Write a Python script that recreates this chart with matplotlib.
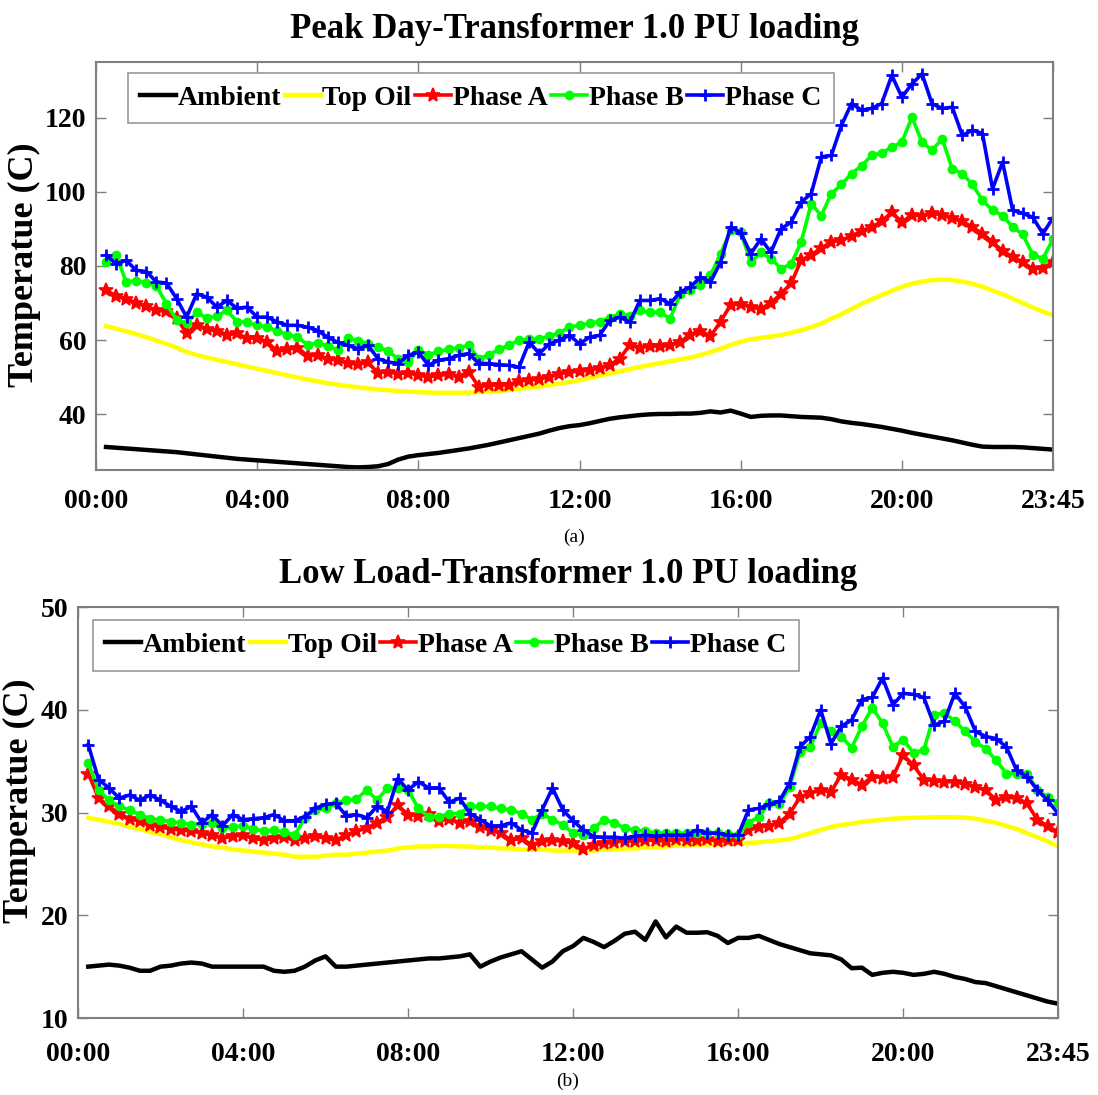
import numpy as np
import matplotlib
matplotlib.use("Agg")
import matplotlib.pyplot as plt

# 15-minute samples from 00:15 to 23:45 (hours)
hours = np.arange(1, 96) * 0.25

tick_pos = [0, 4, 8, 12, 16, 20, 23.75]
tick_labels = ["00:00", "04:00", "08:00", "12:00", "16:00", "20:00", "23:45"]

# ---------------- Peak day ----------------
peak_ambient = [
    31.2, 31.0, 30.8, 30.6, 30.4, 30.2, 30.0, 29.8, 29.5, 29.2, 28.9, 28.6,
    28.3, 28.0, 27.8, 27.6, 27.4, 27.2, 27.0, 26.8, 26.6, 26.4, 26.2, 26.0,
    25.8, 25.7, 25.8, 26.0, 26.6, 27.8, 28.6, 29.0, 29.3, 29.6, 30.0, 30.4,
    30.8, 31.3, 31.8, 32.4, 33.0, 33.6, 34.2, 34.8, 35.6, 36.3, 36.8, 37.1,
    37.6, 38.2, 38.8, 39.2, 39.5, 39.8, 40.0, 40.1, 40.1, 40.2, 40.2, 40.4,
    40.8, 40.5, 41.0, 40.2, 39.3, 39.6, 39.7, 39.7, 39.5, 39.3, 39.2, 39.1,
    38.7, 38.1, 37.7, 37.4, 37.0, 36.6, 36.1, 35.6, 35.0, 34.5, 34.0, 33.5,
    33.0, 32.4, 31.8, 31.3, 31.2, 31.2, 31.2, 31.1, 30.9, 30.7, 30.5]
peak_top_oil = [
    63.8, 63.1, 62.4, 61.6, 60.8, 59.9, 59.0, 58.0, 56.8, 56.0, 55.3, 54.7,
    54.1, 53.5, 52.9, 52.3, 51.7, 51.1, 50.5, 49.9, 49.4, 48.9, 48.4, 48.0,
    47.6, 47.3, 47.0, 46.7, 46.5, 46.3, 46.1, 46.0, 45.9, 45.8, 45.8, 45.8,
    45.9, 46.0, 46.1, 46.3, 46.6, 46.9, 47.2, 47.5, 47.9, 48.3, 48.7, 49.2,
    49.8, 50.4, 51.0, 51.6, 52.2, 52.8, 53.3, 53.8, 54.3, 54.8, 55.3, 56.0,
    56.8, 57.7, 58.7, 59.6, 60.2, 60.6, 61.0, 61.4, 62.0, 62.7, 63.5, 64.5,
    65.8, 67.0, 68.4, 69.8, 71.0, 72.2, 73.3, 74.4, 75.2, 75.8, 76.2, 76.3,
    76.2, 75.8, 75.2, 74.4, 73.4, 72.4, 71.2, 70.0, 68.8, 67.7, 66.7]
peak_phase_a = [
    73.4, 72.0, 71.2, 70.0, 69.2, 68.0, 67.8, 66.0, 61.8, 64.2, 63.0, 62.5,
    61.5, 61.8, 60.5, 60.6, 59.5, 57.0, 57.5, 58.0, 55.8, 56.0, 55.0, 54.6,
    53.8, 53.5, 54.0, 51.2, 51.5, 51.0, 51.2, 50.6, 50.2, 50.5, 50.8, 50.2,
    51.5, 47.4, 48.0, 47.8, 48.0, 49.0, 49.2, 49.5, 50.2, 51.0, 51.4, 51.6,
    52.0, 52.5, 53.3, 55.0, 58.8, 58.0, 58.5, 58.3, 58.6, 59.5, 61.5, 62.6,
    61.0, 65.0, 69.5, 69.8, 69.0, 68.5, 70.0, 72.5, 75.3, 81.5, 83.0, 84.8,
    86.5, 87.0, 88.0, 89.5, 90.5, 92.0, 94.5, 91.8, 93.8, 93.5, 94.2, 93.8,
    93.0, 92.0, 90.5, 88.7, 86.5, 84.0, 82.5, 81.0, 79.2, 79.5, 81.0]
peak_phase_b = [
    81.0, 83.0, 75.7, 76.0, 75.5, 74.6, 69.8, 65.5, 64.5, 67.5, 66.0, 66.5,
    68.0, 65.0, 64.8, 64.0, 63.5, 62.5, 61.5, 60.8, 58.8, 59.2, 58.5, 57.3,
    60.6, 59.8, 59.0, 58.2, 57.0, 55.0, 54.2, 57.3, 56.0, 57.0, 57.5, 58.0,
    58.6, 55.0, 56.0, 57.5, 58.6, 60.0, 60.2, 60.4, 61.0, 62.0, 63.5, 64.0,
    64.6, 65.0, 66.0, 67.1, 66.5, 68.0, 67.5, 67.5, 65.8, 72.5, 73.5, 75.0,
    77.5, 83.3, 89.6, 89.1, 81.0, 83.7, 82.0, 79.3, 80.5, 86.4, 96.8, 93.6,
    99.5, 102.0, 104.9, 107.0, 109.8, 110.5, 112.0, 113.4, 120.1, 113.4, 111.2, 114.3,
    106.2, 104.9, 102.0, 97.7, 95.0, 93.6, 90.5, 88.5, 83.0, 82.0, 87.3]
peak_phase_c = [
    82.9, 80.6, 81.5, 78.8, 78.5, 75.7, 75.4, 71.2, 66.2, 72.5, 71.6, 68.9,
    70.7, 68.6, 68.9, 66.2, 66.2, 64.9, 64.0, 64.0, 63.5, 62.6, 60.8, 59.4,
    58.6, 57.7, 58.6, 55.0, 54.1, 53.7, 55.9, 56.8, 53.2, 54.6, 55.0, 55.9,
    56.4, 53.7, 53.7, 53.4, 53.2, 52.7, 59.5, 56.4, 59.0, 60.0, 61.3, 59.0,
    60.8, 61.3, 65.3, 66.2, 64.9, 70.7, 70.7, 71.2, 69.8, 73.0, 74.3, 77.0,
    75.7, 81.0, 90.5, 89.0, 83.3, 87.3, 83.7, 90.0, 91.8, 97.2, 99.5, 109.4,
    109.8, 117.9, 123.8, 122.0, 122.5, 123.8, 131.4, 125.5, 129.1, 131.8, 123.7, 122.5,
    122.8, 115.2, 116.6, 115.7, 100.8, 108.0, 95.0, 94.2, 93.1, 88.7, 93.0]

# ---------------- Low load day ----------------
low_ambient = [
    15.0, 15.1, 15.2, 15.1, 14.9, 14.6, 14.6, 15.0, 15.1, 15.3, 15.4, 15.3,
    15.0, 15.0, 15.0, 15.0, 15.0, 15.0, 14.6, 14.5, 14.6, 15.0, 15.6, 16.0,
    15.0, 15.0, 15.1, 15.2, 15.3, 15.4, 15.5, 15.6, 15.7, 15.8, 15.8, 15.9,
    16.0, 16.2, 15.0, 15.5, 15.9, 16.2, 16.5, 15.7, 14.9, 15.5, 16.5, 17.0,
    17.8, 17.4, 16.9, 17.5, 18.2, 18.4, 17.6, 19.4, 17.85, 18.9, 18.3, 18.3,
    18.35, 18.0, 17.3, 17.8, 17.8, 18.0, 17.6, 17.2, 16.9, 16.6, 16.3, 16.2,
    16.1, 15.7, 14.85, 14.9, 14.2, 14.4, 14.5, 14.4, 14.2, 14.3, 14.5, 14.3,
    14.0, 13.8, 13.5, 13.4, 13.1, 12.8, 12.5, 12.2, 11.9, 11.6, 11.4]
low_top_oil = [
    29.5, 29.3, 29.1, 28.9, 28.6, 28.4, 28.1, 27.9, 27.6, 27.3, 27.1, 26.9,
    26.7, 26.6, 26.4, 26.3, 26.2, 26.1, 26.0, 25.9, 25.7, 25.7, 25.7, 25.8,
    25.9, 25.9, 26.0, 26.1, 26.2, 26.3, 26.5, 26.6, 26.7, 26.7, 26.75, 26.75,
    26.7, 26.7, 26.6, 26.6, 26.5, 26.5, 26.4, 26.4, 26.4, 26.3, 26.3, 26.3,
    26.3, 26.3, 26.4, 26.4, 26.5, 26.5, 26.6, 26.6, 26.7, 26.8, 26.8, 26.85,
    26.9, 26.9, 27.0, 27.0, 27.05, 27.1, 27.2, 27.3, 27.4, 27.7, 28.0, 28.3,
    28.6, 28.8, 28.9, 29.1, 29.2, 29.3, 29.4, 29.45, 29.5, 29.5, 29.55, 29.55,
    29.55, 29.5, 29.4, 29.2, 29.0, 28.7, 28.4, 28.0, 27.6, 27.2, 26.7]
low_phase_a = [
    33.8, 31.4, 30.6, 29.9, 29.4, 29.2, 28.8, 28.6, 28.4, 28.3, 28.2, 28.0,
    27.8, 27.5, 27.7, 27.8, 27.5, 27.3, 27.5, 27.6, 27.3, 27.5, 27.7, 27.5,
    27.3, 27.8, 28.2, 28.5, 29.0, 29.6, 30.7, 29.8, 29.7, 29.9, 29.2, 29.4,
    29.0, 29.2, 28.6, 28.3, 28.0, 27.3, 27.5, 26.85, 27.2, 27.3, 27.2, 27.0,
    26.5, 26.8, 27.0, 27.1, 27.25, 27.2, 27.3, 27.3, 27.2, 27.4, 27.3, 27.3,
    27.4, 27.2, 27.3, 27.3, 28.3, 28.6, 28.7, 29.0, 29.9, 31.5, 31.9, 32.2,
    32.0, 33.7, 33.2, 32.7, 33.5, 33.4, 33.5, 35.6, 34.6, 33.2, 33.1, 33.0,
    33.0, 32.8, 32.5, 32.2, 31.2, 31.5, 31.4, 30.9, 29.3, 28.7, 28.1]
low_phase_b = [
    34.8, 32.2, 31.2, 30.6, 30.25, 29.8, 29.4, 29.3, 29.1, 29.0, 28.8, 28.9,
    29.0, 28.5, 28.6, 28.7, 28.4, 28.2, 28.3, 28.1, 27.8, 29.45, 30.25, 30.4,
    30.9, 31.2, 31.3, 32.2, 31.2, 32.4, 32.4, 32.2, 30.4, 29.6, 29.6, 29.9,
    29.9, 30.6, 30.6, 30.6, 30.4, 30.25, 29.9, 29.3, 29.9, 29.3, 28.8, 28.0,
    27.8, 28.5, 29.3, 29.0, 28.5, 28.3, 28.2, 28.0, 28.0, 28.0, 28.0, 28.0,
    28.0, 28.0, 27.9, 27.8, 29.0, 29.6, 30.9, 30.8, 32.5, 35.9, 36.4, 38.7,
    37.9, 37.4, 36.3, 38.4, 40.2, 38.7, 36.4, 37.1, 35.8, 36.1, 39.5, 39.7,
    38.9, 37.9, 36.9, 36.2, 35.1, 33.8, 33.8, 33.8, 32.2, 31.5, 30.9]
low_phase_c = [
    36.6, 33.2, 32.4, 31.4, 31.7, 31.2, 31.7, 31.2, 30.6, 30.1, 30.6, 29.0,
    29.8, 28.7, 29.8, 29.3, 29.4, 29.5, 29.8, 29.2, 29.2, 29.6, 30.4, 30.8,
    30.9, 29.7, 29.8, 29.5, 30.6, 30.1, 33.3, 32.2, 33.0, 32.4, 32.4, 31.0,
    31.4, 29.9, 29.3, 28.7, 28.7, 29.0, 28.3, 28.0, 30.25, 32.4, 30.25, 29.2,
    28.3, 27.65, 27.6, 27.6, 27.5, 27.7, 27.8, 27.7, 27.8, 27.8, 27.8, 28.3,
    28.0, 28.0, 27.8, 27.8, 30.25, 30.4, 30.8, 31.1, 32.9, 36.4, 37.4, 40.0,
    36.7, 38.4, 39.0, 41.0, 41.2, 43.1, 40.5, 41.6, 41.5, 41.2, 38.5, 38.9,
    41.6, 40.3, 37.9, 37.4, 37.2, 36.4, 34.1, 33.5, 32.2, 31.2, 29.9]

SERIF = "Liberation Serif"
plt.rcParams["font.family"] = [SERIF, "DejaVu Serif"]
plt.rcParams["font.weight"] = "bold"

fig = plt.figure(figsize=(10.98, 10.95), dpi=100)
ax1 = fig.add_axes([0.0874, 0.5708, 0.8716, 0.3726])
ax2 = fig.add_axes([0.0710, 0.0703, 0.8925, 0.3753])

GRAY = "#7f7f7f"


def draw(ax, amb, oil, pa, pb, pc, ylim, yticks, title, caption, leg_anchor,
         ylabel_xy, xpad):
    ax.plot(hours, amb, color="black", lw=3.2, label="Ambient")
    ax.plot(hours, oil, color="#ffff00", lw=3.2, label="Top Oil")
    ax.plot(hours, pa, color="#ff0000", lw=2.6, marker="*", ms=10,
            mew=1.2, label="Phase A")
    ax.plot(hours, pb, color="#00ff00", lw=2.6, marker="o", ms=6,
            mew=1.0, label="Phase B")
    ax.plot(hours, pc, color="#0000ff", lw=2.6, marker="+", ms=8,
            mew=2.0, label="Phase C")
    ax.set_xlim(0, 23.75)
    ax.set_ylim(*ylim)
    ax.set_xticks(tick_pos)
    ax.set_xticklabels(tick_labels)
    ax.set_yticks(yticks)
    ax.tick_params(direction="in", top=True, right=True, length=7,
                   width=1.0, color=GRAY, labelsize=20, pad=7)
    ax.tick_params(axis="x", pad=xpad)
    for lab in ax.get_xticklabels() + ax.get_yticklabels():
        lab.set_fontweight("bold")
    for sp in ax.spines.values():
        sp.set_color(GRAY)
        sp.set_linewidth(1.5)
    fig.text(ylabel_xy[0], ylabel_xy[1], "Temperatue (C)", rotation=90,
             ha="center", va="center", fontsize=26, fontweight="bold")
    ax.set_title(title, fontsize=25, fontweight="bold", pad=17)
    leg = ax.legend(loc="upper left", ncol=5, fontsize=20, frameon=True,
                    fancybox=False, handlelength=1.3, handletextpad=0.06,
                    columnspacing=0.12, borderpad=0.45, borderaxespad=0.0,
                    bbox_to_anchor=leg_anchor)
    leg.get_frame().set_edgecolor(GRAY)
    leg.get_frame().set_linewidth(1.2)
    for t in leg.get_texts():
        t.set_fontweight("bold")
    ax.text(0.5, caption[1], caption[0], transform=ax.transAxes,
            ha="center", va="center", fontsize=14, fontweight="normal")


draw(ax1, peak_ambient, peak_top_oil, peak_phase_a, peak_phase_b,
     peak_phase_c, (25, 135), [40, 60, 80, 100, 120],
     "Peak Day-Transformer 1.0 PU loading", ("(a)", -0.165),
     (0.033, 0.973), (0.022, 0.758), 14)
draw(ax2, low_ambient, low_top_oil, low_phase_a, low_phase_b,
     low_phase_c, (10, 50), [10, 20, 30, 40, 50],
     "Low Load-Transformer 1.0 PU loading", ("(b)", -0.155),
     (0.015, 0.968), (0.018, 0.269), 17)

fig.savefig("out.png", dpi=100)
